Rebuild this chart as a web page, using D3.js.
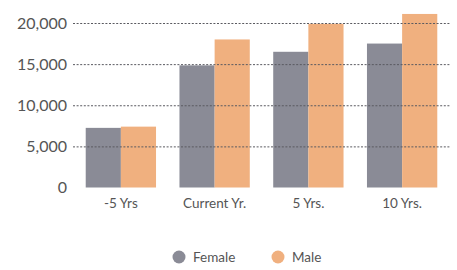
<!DOCTYPE html>
<html>
<head>
<meta charset="utf-8">
<script src="https://cdn.jsdelivr.net/npm/d3@7"></script>
<style>
  body { margin: 0; background: #fff; }
  svg { display: block; font-family: Lato, "Open Sans", sans-serif; }
</style>
</head>
<body>
<svg id="chart" width="457" height="270"></svg>
<script>
var categories = ['-5 Yrs', 'Current Yr.', '5 Yrs.', '10 Yrs.'];
var series = ['Female', 'Male'];
var female = [7250, 14850, 16500, 17500];
var male = [7400, 18000, 19900, 21100];
var yTicks = [0, 5000, 10000, 15000, 20000];
var colors = ['#8a8b96', '#f0b07f'];

var svg = d3.select('#chart');

var x = d3.scaleBand()
  .domain(categories)
  .range([74, 449])
  .paddingInner(0.25)
  .paddingOuter(0.125);

var x1 = d3.scaleBand()
  .domain(series)
  .range([0, x.bandwidth()]);

var y = d3.scaleLinear()
  .domain([0, 20000])
  .range([187.5, 23]);

var color = d3.scaleOrdinal().domain(series).range(colors);

var rows = categories.map(function(c, i) {
  return { cat: c, values: [
    { key: 'Female', value: female[i] },
    { key: 'Male', value: male[i] }
  ] };
});

// bars
var groups = svg.append('g').selectAll('g')
  .data(rows)
  .enter()
  .append('g')
  .attr('transform', function(d) { return 'translate(' + x(d.cat) + ',0)'; });

groups.selectAll('rect')
  .data(function(d) { return d.values; })
  .enter()
  .append('rect')
  .attr('x', function(d) { return x1(d.key); })
  .attr('y', function(d) { return y(d.value); })
  .attr('width', x1.bandwidth())
  .attr('height', function(d) { return y(0) - y(d.value); })
  .attr('fill', function(d) { return color(d.key); });

// y axis with dotted grid lines drawn over bars
var yAxis = svg.append('g')
  .attr('transform', 'translate(73,0)')
  .call(d3.axisLeft(y)
    .tickValues(yTicks)
    .tickSize(-377)
    .tickPadding(6)
    .tickFormat(d3.format(',')));

yAxis.select('.domain').remove();
yAxis.selectAll('.tick line')
  .attr('stroke', '#5a5a60')
  .attr('stroke-width', 1)
  .attr('stroke-dasharray', '2,1.6')
  .filter(function(d) { return d === 0; })
  .remove();
yAxis.selectAll('.tick text')
  .attr('fill', '#555')
  .attr('font-size', '16px')
  .attr('font-family', 'Lato, sans-serif');

// x axis
var xAxis = svg.append('g')
  .attr('transform', 'translate(0,' + y(0) + ')')
  .call(d3.axisBottom(x).tickSize(0).tickPadding(11));

xAxis.select('.domain').remove();
xAxis.selectAll('.tick text')
  .attr('fill', '#555')
  .attr('font-size', '13.5px')
  .attr('font-family', 'Lato, sans-serif');

// legend
var legendX = d3.scalePoint().domain(series).range([179, 278]);

var legend = svg.append('g').selectAll('g')
  .data(series)
  .enter()
  .append('g')
  .attr('transform', function(d) { return 'translate(' + legendX(d) + ',257)'; });

legend.append('circle')
  .attr('r', 6.5)
  .attr('fill', function(d) { return color(d); });

legend.append('text')
  .attr('x', 14)
  .attr('dy', '0.35em')
  .attr('fill', '#555')
  .attr('font-size', '13.5px')
  .text(function(d) { return d; });
</script>
</body>
</html>
